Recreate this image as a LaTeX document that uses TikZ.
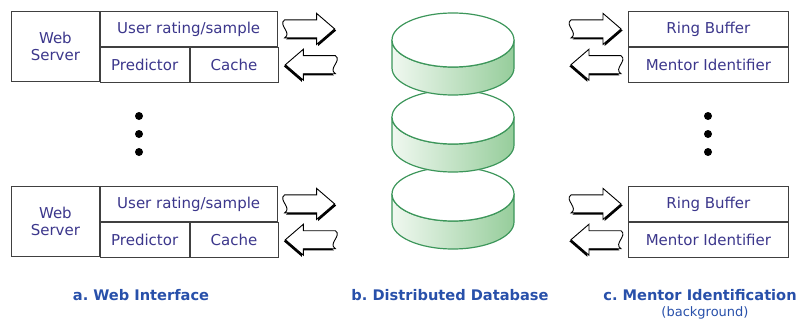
\documentclass[tikz,border=0pt]{standalone}
\usepackage{fontspec}
\setmainfont{DejaVu Sans}
\usetikzlibrary{positioning}
\frenchspacing
\definecolor{boxtext}{RGB}{60,55,140}
\definecolor{labelblue}{RGB}{40,80,170}
\definecolor{diskline}{RGB}{60,150,90}
\definecolor{diskdark}{RGB}{150,205,155}
\definecolor{disklight}{RGB}{240,248,240}
\tikzset{cell/.style={rectangle,draw=black!75,line width=0.8pt,fill=white,
inner sep=0pt,text=boxtext,align=center,font=\fontsize{15}{17.5}\selectfont}}
\tikzset{caption/.style={text=labelblue,font=\bfseries\fontsize{14.6}{17}\selectfont}}
\tikzset{dbdisk/.style={draw=diskline,line width=1.2pt}}
\newcommand{\fatpath}{(-25,-9) .. controls (-17,-4) and (-32,4) .. (-25,9)
 -- (7,9) -- (7,15.5) -- (25,0) -- (7,-15.5) -- (7,-9) -- cycle}
\tikzset{fatarrow/.pic={
 \fill[black,shift={(1.6,-1.6)}] \fatpath;
 \draw[fill=white,line width=0.9pt] \fatpath;}}
\begin{document}
\begin{tikzpicture}[x=1pt,y=1pt]
    \useasboundingbox (0,0) rectangle (799,322);

    % web interface boxes
    \foreach \r/\top in {A/311,B/136} {
        \node[cell,minimum width=88pt,minimum height=70pt,anchor=north west] (srv\r) at (11,\top) {Web\\Server};
        \node[cell,minimum width=177pt,minimum height=35pt,anchor=north west] (rate\r) at (srv\r.north east) {User rating/sample};
        \node[cell,minimum width=89pt,minimum height=35pt,anchor=north west] (pred\r) at (rate\r.south west) {Predictor};
        \node[cell,minimum width=88pt,minimum height=35pt,anchor=north west] (cache\r) at (pred\r.north east) {Cache};
        \pic at ([xshift=32pt]rate\r.east) {fatarrow};
        \pic[xscale=-1] at ([xshift=32pt]cache\r.east) {fatarrow};
    }

    % mentor identification boxes
    \foreach \r/\top in {A/311,B/136} {
        \node[cell,minimum width=160pt,minimum height=35pt,anchor=north west] (ring\r) at (628,\top) {Ring Buffer};
        \node[cell,minimum width=160pt,minimum height=35pt,anchor=north] (mentor\r) at (ring\r.south) {Mentor Identifier};
        \pic at ([xshift=-32pt]ring\r.west) {fatarrow};
        \pic[xscale=-1] at ([xshift=-32pt]mentor\r.west) {fatarrow};
    }

    % dots
    \foreach \y in {170,188,206} {
        \fill (139,\y) circle (4);
        \fill (708,\y) circle (4);
    }

    % distributed database
    \coordinate (db) at (453,0);
    \foreach \yc in {128,205,282} {
        \draw[dbdisk,left color=disklight,right color=diskdark]
            ([xshift=-61pt,yshift=\yc pt]db) -- ++(0,-28)
            arc[start angle=180,end angle=360,x radius=61,y radius=27]
            -- ++(0,28)
            arc[start angle=360,end angle=180,x radius=61,y radius=27] -- cycle;
        \draw[dbdisk,fill=white] ([yshift=\yc pt]db) ellipse[x radius=61,y radius=27];
    }

    % captions
    \node[caption] (capA) at (141,27) {a. Web Interface};
    \node[caption] (capB) at (450,27) {b. Distributed Database};
    \node[caption] (capC) at (700,27) {c. Mentor Identification};
    \node[text=labelblue,font=\fontsize{13}{15}\selectfont] (capCbg) at (705,9) {(background)};

\end{tikzpicture}
\end{document}
